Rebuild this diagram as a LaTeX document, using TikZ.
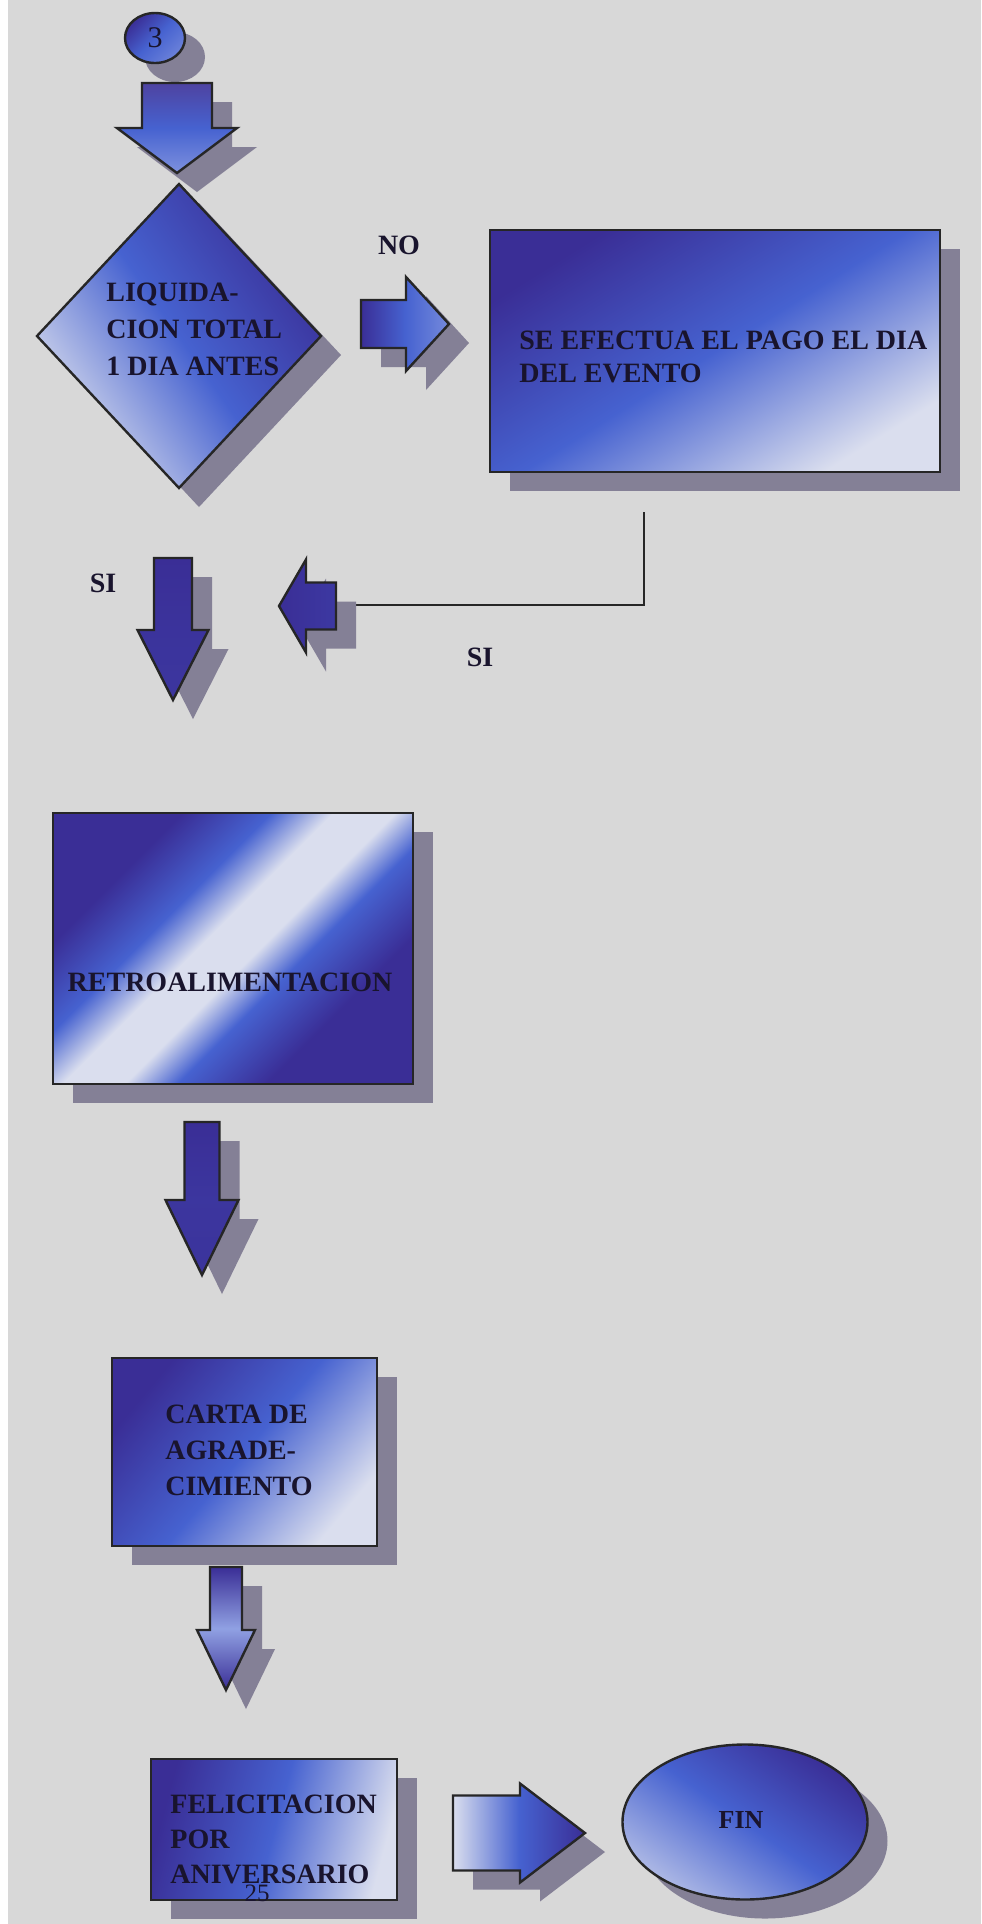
\documentclass[tikz,border=0pt]{standalone}
\usepackage{fontspec}
\setmainfont{Liberation Serif}
\usetikzlibrary{shapes.geometric,shadows}

\definecolor{cdark}{RGB}{58,46,150}
\definecolor{cmid}{RGB}{70,98,208}
\definecolor{clight}{RGB}{218,222,238}
\definecolor{bgc}{RGB}{216,216,216}
\definecolor{shcol}{RGB}{132,128,150}
\definecolor{txtc}{RGB}{25,20,45}

\pgfdeclareverticalshading{retrosh}{100bp}{color(0bp)=(cdark); color(31bp)=(cdark); color(41bp)=(cmid); color(47bp)=(clight); color(54bp)=(clight); color(61bp)=(cmid); color(71bp)=(cdark); color(100bp)=(cdark)}

\newcommand\DArrow[7]{% style, xc, top, shaft half w, head half w, head start y, tip y
  \path[#1] (#2-#4,#3) -- (#2+#4,#3) -- (#2+#4,#6) -- (#2+#5,#6) -- (#2,#7)
    -- (#2-#5,#6) -- (#2-#4,#6) -- cycle;}
\newcommand\HArrow[7]{% style, tail x, cy, shaft half h, head half h, head base x, tip x
  \path[#1] (#2,#3-#4) -- (#6,#3-#4) -- (#6,#3-#5) -- (#7,#3) -- (#6,#3+#5)
    -- (#6,#3+#4) -- (#2,#3+#4) -- cycle;}

\tikzset{
  outl/.style={draw=black!85, line width=1.2pt},
  shd/.style={drop shadow={shadow xshift=10pt, shadow yshift=-9.5pt, fill=shcol, opacity=1}},
  lbl/.style={text=txtc, inner sep=0pt, font=\fontsize{14}{17}\selectfont\bfseries},
  plainlbl/.style={text=txtc, inner sep=0pt},
  boxnode/.style={rectangle, outl, shd, inner sep=0pt},
}

\begin{document}
\begin{tikzpicture}[x=0.5pt, y=-0.5pt]
\useasboundingbox (0,0) rectangle (981,1924);
\fill[white] (0,0) rectangle (981,1924);
\fill[bgc] (8,0) rectangle (981,1924);

% start ellipse "3"
\node[ellipse, outl, shd, inner sep=0pt, minimum width=30pt, minimum height=25pt,
      top color=cdark, bottom color=cmid!80!white, middle color=cmid, shading angle=45] (e3) at (155,38) {};
\node[plainlbl, font=\fontsize{15}{18}\selectfont] (t3) at (e3.center) {3};

% arrow 1
\DArrow{outl, shd, top color=cdark!90, bottom color=cmid!70!white, middle color=cmid, shading angle=0}{177}{83}{35}{60}{128}{173}

% decision diamond
\node[diamond, outl, shd, inner sep=0pt, minimum width=142.5pt, minimum height=152.5pt,
      top color=cdark, bottom color=clight, middle color=cmid, shading angle=-55] (dia) at (179,336) {};
\node[lbl, align=left, anchor=west, font=\fontsize{14}{18.5}\selectfont\bfseries] (tdia) at (106,329)
  {LIQUIDA-\\CION TOTAL\\1 DIA ANTES};

% NO label and arrow
\node[lbl] (lno) at (399,245) {NO};
\HArrow{outl, shd, top color=cdark, bottom color=cmid!75!white, middle color=cmid, shading angle=90}{361}{324}{24}{47}{406}{449}

% box SE EFECTUA
\node[boxnode, minimum width=225pt, minimum height=121pt,
      top color=cdark, bottom color=clight, middle color=cmid, shading angle=32] (se) at (715,351) {};
\node[lbl, align=left, anchor=west, font=\fontsize{14}{16.5}\selectfont\bfseries] (tse) at (519,357)
  {SE EFECTUA EL PAGO EL DIA\\DEL EVENTO};

% return connector
\coordinate (lt) at (644,512);
\coordinate (lb) at (352,605);
\draw[black!85, line width=1.2pt] (lt) |- (lb);

% SI labels and arrows
\node[lbl] (lsi1) at (103,583) {SI};
\node[lbl] (lsi2) at (480,657) {SI};
\DArrow{outl, shd, top color=cdark, bottom color=cdark!85!cmid, middle color=cdark!90!cmid, shading angle=0}{173}{558}{19}{35.5}{630}{700}
\HArrow{outl, shd, top color=cdark, bottom color=cdark!80!cmid, middle color=cdark!90!cmid, shading angle=90}{336}{606}{23.5}{46.5}{306}{279}

% RETROALIMENTACION
\node[boxnode, minimum width=180pt, minimum height=135.5pt,
      shading=retrosh, shading angle=45] (retro) at (233,948.5) {};
\node[lbl] (tretro) at (230,982) {RETROALIMENTACION};

% arrow 3
\DArrow{outl, shd, top color=cdark, bottom color=cdark!90!cmid, middle color=cdark!85!cmid, shading angle=0}{202}{1122}{17.5}{36.5}{1200}{1275}

% CARTA
\node[boxnode, minimum width=132.5pt, minimum height=94pt,
      top color=cdark, bottom color=clight, middle color=cmid, shading angle=50] (carta) at (244.5,1452) {};
\node[lbl, align=left, anchor=west, font=\fontsize{14}{18}\selectfont\bfseries] (tcarta) at (165,1450)
  {CARTA DE\\AGRADE-\\CIMIENTO};

% arrow 4
\DArrow{outl, shd, top color=cdark, bottom color=cdark, middle color=cmid!60!white, shading angle=0}{226}{1567}{16}{29}{1630}{1690}

% FELICITACION
\node[boxnode, minimum width=123pt, minimum height=70.5pt,
      top color=cdark, bottom color=clight, middle color=cmid, shading angle=75] (felic) at (274,1829.5) {};
\node[lbl, align=left, anchor=west, font=\fontsize{14}{17.5}\selectfont\bfseries] (tfelic) at (170,1839)
  {FELICITACION\\POR\\ANIVERSARIO};
\node[plainlbl, font=\fontsize{12.5}{15}\selectfont] (pg) at (257,1893) {25};

% arrow 5
\HArrow{outl, shd, top color=cdark, bottom color=clight, middle color=cmid, shading angle=-90}{453}{1833}{37.5}{49.5}{520}{585}

% FIN
\node[ellipse, outl, shd, inner sep=0pt, minimum width=122.5pt, minimum height=77.5pt,
      top color=cdark, bottom color=clight!70!cmid, middle color=cmid, shading angle=-35] (fin) at (745,1822) {};
\node[lbl, font=\fontsize{13}{15}\selectfont\bfseries] (tfin) at (741,1820) {FIN};
\end{tikzpicture}
\end{document}
